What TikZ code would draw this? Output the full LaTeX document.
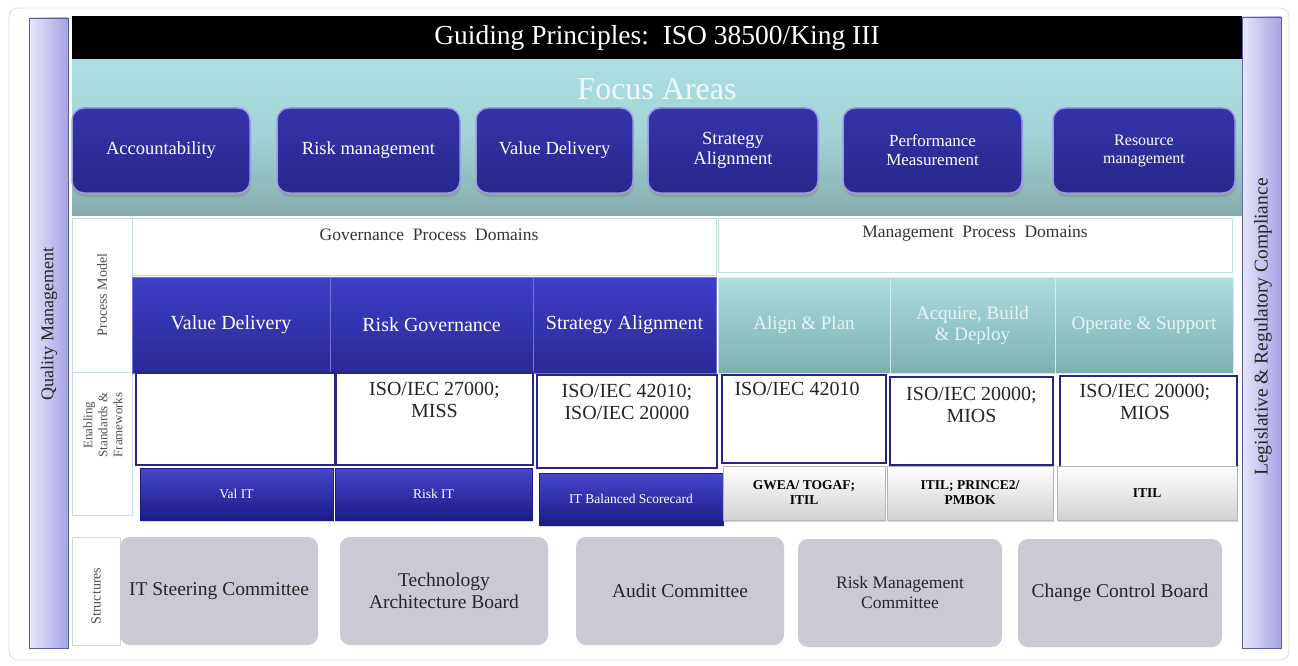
\documentclass[tikz,border=0pt]{standalone}
\usepackage{fontspec}
\setmainfont{Liberation Serif}
\usetikzlibrary{shadows}

\definecolor{frameedge}{HTML}{DADADA}
\definecolor{barlight}{HTML}{E6E6FB}
\definecolor{bardark}{HTML}{A4A4E4}
\definecolor{baredge}{HTML}{5D5D9A}
\definecolor{tealtop}{HTML}{ADE0E3}
\definecolor{tealmid}{HTML}{A2D2D5}
\definecolor{tealbot}{HTML}{86ACAC}
\definecolor{focustop}{HTML}{3434AA}
\definecolor{focusbot}{HTML}{27278C}
\definecolor{focusedge}{HTML}{9A9AE8}
\definecolor{celltop}{HTML}{3E3EC8}
\definecolor{cellbot}{HTML}{2A2A96}
\definecolor{celledge}{HTML}{7070D8}
\definecolor{mgmttop}{HTML}{AEDDDF}
\definecolor{mgmtbot}{HTML}{7EB0B0}
\definecolor{mgmttext}{HTML}{E6F4F4}
\definecolor{mgmtedge}{HTML}{D2ECEC}
\definecolor{stdedge}{HTML}{252585}
\definecolor{fwtop}{HTML}{4646CC}
\definecolor{fwbot}{HTML}{1B1B86}
\definecolor{fwgraybot}{HTML}{D2D2D2}
\definecolor{fwgrayedge}{HTML}{B5B5B5}
\definecolor{structfill}{HTML}{C9CAD4}
\definecolor{labeledge}{HTML}{C2DEDA}
\definecolor{labeltext}{HTML}{505050}

\begin{document}
\begin{tikzpicture}[x=1pt,y=-1pt,
  every node/.style={inner sep=0pt, outer sep=0pt},
  sidebar/.style={left color=barlight, right color=bardark, draw=baredge, line width=0.8pt},
  focusbox/.style={rounded corners=12pt, draw=focusedge, line width=1.5pt,
    top color=focustop, bottom color=focusbot, text=white, align=center,
    font=\fontsize{18.5}{20}\selectfont,
    drop shadow={shadow xshift=1pt, shadow yshift=-4pt, opacity=.35}},
  labelcell/.style={fill=white, draw=labeledge, line width=0.8pt},
  labeltxt/.style={rotate=90, text=labeltext, align=center, font=\fontsize{14}{14}\selectfont},
  header/.style={fill=white, draw=labeledge, line width=0.6pt},
  headtxt/.style={text=black!80, font=\fontsize{17.5}{19}\selectfont},
  govcell/.style={top color=celltop, bottom color=cellbot, draw=celledge, line width=0.8pt,
    text=white, align=center, font=\fontsize{20}{22}\selectfont},
  mgmtcell/.style={top color=mgmttop, bottom color=mgmtbot, draw=mgmtedge, line width=0.8pt,
    text=mgmttext, align=center, font=\fontsize{19}{21}\selectfont},
  stdbox/.style={fill=white, draw=stdedge, line width=1.6pt},
  stdtxt/.style={text=black!85, align=center, font=\fontsize{20}{22}\selectfont},
  fwblue/.style={top color=fwtop, bottom color=fwbot, draw=fwbot, line width=0.8pt,
    text=white, align=center, font=\fontsize{13.5}{15}\selectfont,
    drop shadow={shadow xshift=1pt, shadow yshift=-2pt, opacity=.3}},
  fwgray/.style={top color=white, bottom color=fwgraybot, draw=fwgrayedge, line width=0.8pt,
    text=black, align=center, font=\bfseries\fontsize{13.5}{15}\selectfont,
    drop shadow={shadow xshift=1pt, shadow yshift=-2pt, opacity=.3}},
  structbox/.style={rounded corners=10pt, fill=structfill, text=black!85, align=center,
    font=\fontsize{19.5}{22}\selectfont}]

\useasboundingbox (0,0) rectangle (1298,666);

% outer frame
\node[draw=frameedge, fill=white, rounded corners=9pt, line width=0.8pt,
  minimum width=1280, minimum height=652] (frame) at (649,334) {};

% side bars
\fill[sidebar] (29,18) rectangle (68,648);
\node[rotate=90, font=\fontsize{18}{20}\selectfont, text=black!85] (qm) at (49,324) {Quality Management};
\fill[sidebar] (1242,17) rectangle (1281,648);
\node[rotate=90, font=\fontsize{19.5}{21}\selectfont, text=black!85] (lrc) at (1263,327) {Legislative \& Regulatory Compliance};

% guiding principles band
\node[fill=black, minimum width=1170, minimum height=44, text=white,
  font=\fontsize{27.5}{29}\selectfont] (gp) at (657,38) {Guiding Principles:\ \ ISO 38500/King III};

% focus areas band
\node[top color=tealtop, bottom color=tealbot, middle color=tealmid,
  minimum width=1170, minimum height=155] (fa) at (657,137.5) {};
\node[text=white!80!tealtop, font=\fontsize{32}{34}\selectfont] (fat) at (657,89) {Focus Areas};

\node[focusbox, minimum width=178, minimum height=85] (acc) at (161,150.5) {Accountability};
\node[focusbox, minimum width=183, minimum height=85] (rm) at (368.5,150.5) {Risk management};
\node[focusbox, minimum width=157, minimum height=85] (vd) at (554.5,150.5) {Value Delivery};
\node[focusbox, minimum width=170, minimum height=85] (sa) at (733,150.5) {Strategy\\Alignment};
\node[focusbox, minimum width=179, minimum height=85, font=\fontsize{17}{19}\selectfont] (pm) at (932.5,150.5) {Performance\\Measurement};
\node[focusbox, minimum width=182, minimum height=85, font=\fontsize{16}{18}\selectfont] (res) at (1144,150.5) {Resource\\management};

% row labels
\node[labelcell, minimum width=60, minimum height=154] (lpm) at (102,295) {};
\node[labeltxt] (lpmt) at (102,295) {Process Model};
\node[labelcell, minimum width=60, minimum height=143] (les) at (102,443.5) {};
\node[labeltxt, font=\fontsize{13}{15}\selectfont] (lest) at (103,425) {Enabling\\Standards \&\\Frameworks};
\node[labelcell, minimum width=48, minimum height=108] (lst) at (96,591) {};
\node[labeltxt] (lstt) at (96,596) {Structures};

% domain headers
\node[header, minimum width=584, minimum height=57] (gpd) at (424,246.5) {};
\node[headtxt] (gpdt) at (429,235) {Governance\ \ Process\ \ Domains};
\node[header, minimum width=514, minimum height=54] (mpd) at (975,245) {};
\node[headtxt] (mpdt) at (975,234) {Management\ \ Process\ \ Domains};

% process model row
\node[govcell, minimum width=198, minimum height=96] (pvd) at (231,325) {Value Delivery};
\node[govcell, minimum width=203, minimum height=96] (prg) at (431.5,325) {Risk Governance};
\node[govcell, minimum width=183, minimum height=96] (psa) at (624.5,325) {Strategy Alignment};
\node[mgmtcell, minimum width=172, minimum height=96] (pap) at (804,325) {Align \& Plan};
\node[mgmtcell, minimum width=165, minimum height=96] (pab) at (972.5,325) {Acquire, Build\\\& Deploy};
\node[mgmtcell, minimum width=178, minimum height=96] (pos) at (1144,325) {Operate \& Support};

% enabling standards row
\node[stdbox, minimum width=199, minimum height=92] (s1) at (235.5,419) {};
\node[stdbox, minimum width=197, minimum height=92] (s2) at (434.5,419) {};
\node[stdtxt, anchor=north] (s2t) at (434.5,382) {ISO/IEC 27000;\\MISS};
\node[stdbox, minimum width=180, minimum height=93] (s3) at (627,421.5) {};
\node[stdtxt, anchor=north] (s3t) at (627,384) {ISO/IEC 42010;\\ISO/IEC 20000};
\node[stdbox, minimum width=164, minimum height=88] (s4) at (804,419) {};
\node[stdtxt, anchor=north] (s4t) at (797,382) {ISO/IEC 42010};
\node[stdbox, minimum width=163, minimum height=88] (s5) at (971.5,421) {};
\node[stdtxt, anchor=north] (s5t) at (971.5,387) {ISO/IEC 20000;\\MIOS};
\node[stdbox, minimum width=177, minimum height=92] (s6) at (1148.5,422) {};
\node[stdtxt, anchor=north] (s6t) at (1145,384) {ISO/IEC 20000;\\MIOS};

% framework row
\node[fwblue, minimum width=193, minimum height=52] (f1) at (236.5,494) {Val IT};
\node[fwblue, minimum width=197, minimum height=52] (f2) at (433.5,494) {Risk IT};
\node[fwblue, minimum width=184, minimum height=52] (f3) at (631,499) {IT Balanced Scorecard};
\node[fwgray, minimum width=162, minimum height=54] (f4) at (804,493) {GWEA/ TOGAF;\\ITIL};
\node[fwgray, minimum width=166, minimum height=54] (f5) at (970,493) {ITIL; PRINCE2/\\PMBOK};
\node[fwgray, minimum width=180, minimum height=54] (f6) at (1147,493) {ITIL};

% structures row
\node[structbox, minimum width=198, minimum height=108] (c1) at (219,591) {IT Steering Committee};
\node[structbox, minimum width=208, minimum height=108] (c2) at (444,591) {Technology\\Architecture Board};
\node[structbox, minimum width=208, minimum height=108] (c3) at (680,591) {Audit Committee};
\node[structbox, minimum width=204, minimum height=108, font=\fontsize{17.5}{20}\selectfont] (c4) at (900,593) {Risk Management\\Committee};
\node[structbox, minimum width=204, minimum height=108] (c5) at (1120,593) {Change Control Board};

\end{tikzpicture}
\end{document}
